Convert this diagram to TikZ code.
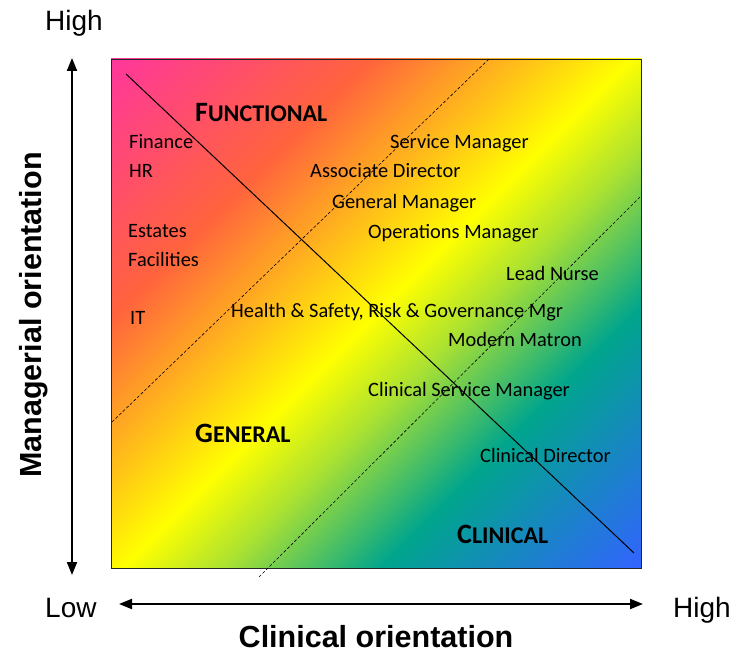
\documentclass[tikz,border=0pt]{standalone}
\usepackage{fontspec}
\usepackage{xcolor}
\usetikzlibrary{arrows.meta}

\setmainfont{Carlito}
\newfontfamily\axisfont{Liberation Sans}

\definecolor{qpink}{RGB}{255,55,155}
\definecolor{qred}{RGB}{255,100,60}
\definecolor{qyellow}{RGB}{255,255,0}
\definecolor{qlime}{RGB}{170,225,50}
\definecolor{qteal}{RGB}{0,165,140}
\definecolor{qblue}{RGB}{50,100,255}

\pgfdeclarehorizontalshading{quadrant}{100bp}{color(0bp)=(qpink); color(14.6bp)=(qpink); color(32.3bp)=(qred); color(50bp)=(qyellow); color(57bp)=(qlime); color(67.7bp)=(qteal); color(85.4bp)=(qblue); color(100bp)=(qblue)}

\begin{document}
\begin{tikzpicture}[x=1pt,y=1pt]
    % Define styles
    \tikzstyle{grid}=[draw=black!85, line width=0.8pt, inner sep=0pt, minimum width=530pt, minimum height=509pt, shading=quadrant, shading angle=-45]
    \tikzstyle{role}=[anchor=base west, inner sep=0pt, font=\fontsize{20.4}{24}\selectfont]
    \tikzstyle{zone}=[anchor=base west, inner sep=0pt, font=\bfseries]
    \tikzstyle{level}=[anchor=base west, inner sep=0pt, font=\axisfont\fontsize{28}{32}\selectfont]
    \tikzstyle{axistitle}=[anchor=base, inner sep=0pt, font=\axisfont\bfseries\fontsize{30.5}{34}\selectfont]
    \tikzstyle{axis}=[line width=2pt, {Triangle[width=10pt,length=13pt]}-{Triangle[width=10pt,length=13pt]}]
    \tikzstyle{divider}=[line width=1pt]
    \tikzstyle{band}=[line width=0.6pt, dash pattern=on 3pt off 2pt]

    \useasboundingbox (0,0) rectangle (743,657);

    % Place shaded grid
    \node[grid] (quad) at (376,343.5) {};

    % Dividing lines
    \coordinate (diagA) at (126,583);
    \coordinate (diagB) at (634,104);
    \coordinate (bandA1) at (112,235);
    \coordinate (bandA2) at (489,598);
    \coordinate (bandB1) at (259,80);
    \coordinate (bandB2) at (641,461);
    \draw[divider] (diagA) -- (diagB);
    \draw[band] (bandA1) -- (bandA2);
    \draw[band] (bandB1) -- (bandB2);

    % Zone labels
    \node[zone] (functional) at (195,535) {{\fontsize{28}{30}\selectfont F}\fontsize{24}{26}\selectfont UNCTIONAL};
    \node[zone] (general) at (195,215) {{\fontsize{28}{30}\selectfont G}\fontsize{24}{26}\selectfont ENERAL};
    \node[zone] (clinical) at (457,114) {{\fontsize{28}{30}\selectfont C}\fontsize{24}{26}\selectfont LINICAL};

    % Place roles
    \node[role] (finance) at (129,508) {Finance};
    \node[role] (hr) at (129,479) {HR};
    \node[role] (estates) at (128,420) {Estates};
    \node[role] (facilities) at (128,391) {Facilities};
    \node[role] (it) at (130,333) {IT};
    \node[role] (servmgr) at (390,508) {Service Manager};
    \node[role] (assocdir) at (310,479) {Associate Director};
    \node[role] (genmgr) at (332,449) {General Manager};
    \node[role] (opsmgr) at (368,419) {Operations Manager};
    \node[role] (leadnurse) at (506,377) {Lead Nurse};
    \node[role] (hsrg) at (231,340) {Health \& Safety, Risk \& Governance Mgr};
    \node[role] (matron) at (448,311) {Modern Matron};
    \node[role] (clinsm) at (368,261) {Clinical Service Manager};
    \node[role] (clindir) at (480,195) {Clinical Director};

    % Axes
    \coordinate (mtop) at (72,599);
    \coordinate (mbot) at (72,82);
    \coordinate (cleft) at (119,53);
    \coordinate (cright) at (643,53);
    \draw[axis] (mbot) -- (mtop);
    \draw[axis] (cleft) -- (cright);

    % Axis labels
    \node[level] (mhigh) at (45,626) {High};
    \node[level] (clow) at (45,40) {Low};
    \node[level] (chigh) at (673,40) {High};
    \node[axistitle] (ctitle) at (376,10) {Clinical orientation};
    \node[axistitle, rotate=90] (mtitle) at (41,342) {Managerial orientation};
\end{tikzpicture}
\end{document}
